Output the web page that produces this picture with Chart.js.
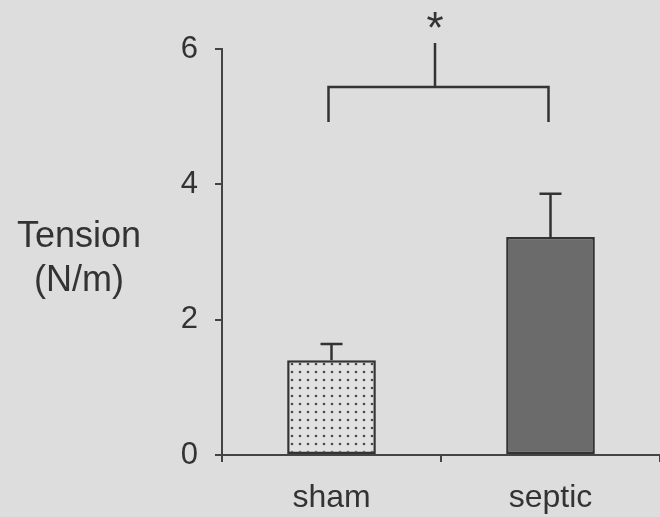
<!DOCTYPE html>
<html>
<head>
<meta charset="utf-8">
<script src="https://cdn.jsdelivr.net/npm/chart.js@4.4.0/dist/chart.umd.min.js"></script>
<style>
  html, body { margin: 0; padding: 0; background: #dddddd; }
  #wrap { width: 660px; height: 517px; position: relative; }
</style>
</head>
<body>
<div id="wrap"><canvas id="chart"></canvas></div>
<script>
// data
const groups = ['sham', 'septic'];
const tensionMean = [1.40, 3.22];
const tensionErr = [0.24, 0.64];   // upper SEM
const yTicks = [0, 2, 4, 6];
const bracketTop = 5.44;
const bracketLegs = 4.92;
const stemTop = 6.09;
const starAt = 6.42;
const yTitle = ['Tension', '(N/m)'];

const INK = '#333333';
const FONT = '"Liberation Sans", Arial, sans-serif';

// dotted fill for the sham bar
function dotPattern() {
  const c = document.createElement('canvas');
  c.width = 8; c.height = 8;
  const g = c.getContext('2d');
  g.fillStyle = '#e2e2e2';
  g.fillRect(0, 0, 8, 8);
  g.fillStyle = '#4a4a4a';
  g.beginPath();
  g.arc(4, 4, 1.3, 0, Math.PI * 2);
  g.fill();
  return g.createPattern(c, 'repeat');
}

// error bars, significance bracket and the horizontal y title
const extras = {
  id: 'extras',
  afterDatasetsDraw(chart) {
    const ctx = chart.ctx;
    const x = chart.scales.x, y = chart.scales.y;
    const meta = chart.getDatasetMeta(0);
    ctx.save();
    ctx.strokeStyle = INK;
    ctx.lineWidth = 2.5;
    meta.data.forEach((bar, i) => {
      const top = y.getPixelForValue(tensionMean[i]);
      const hi = y.getPixelForValue(tensionMean[i] + tensionErr[i]);
      ctx.beginPath();
      ctx.moveTo(bar.x, top);
      ctx.lineTo(bar.x, hi);
      ctx.moveTo(bar.x - 11, hi);
      ctx.lineTo(bar.x + 11, hi);
      ctx.stroke();
    });

    // bracket
    const x1 = meta.data[0].x - 3, x2 = meta.data[1].x - 2;
    const xm = (x.getPixelForValue(0) + x.getPixelForValue(1)) / 2 - 6;
    const yb = y.getPixelForValue(bracketTop), yl = y.getPixelForValue(bracketLegs);
    ctx.beginPath();
    ctx.moveTo(x1, yl);
    ctx.lineTo(x1, yb);
    ctx.lineTo(x2, yb);
    ctx.lineTo(x2, yl);
    ctx.moveTo(xm, yb);
    ctx.lineTo(xm, y.getPixelForValue(stemTop));
    ctx.stroke();

    ctx.fillStyle = INK;
    ctx.font = '44px ' + FONT;
    ctx.textAlign = 'center';
    ctx.textBaseline = 'middle';
    ctx.fillText('*', xm, y.getPixelForValue(starAt) + 10);

    ctx.font = '36px ' + FONT;
    ctx.textBaseline = 'alphabetic';
    ctx.fillText(yTitle[0], 79, 247);
    ctx.fillText(yTitle[1], 79, 291);
    ctx.restore();
  }
};

new Chart(document.getElementById('chart'), {
  type: 'bar',
  data: {
    labels: groups,
    datasets: [{
      data: tensionMean,
      backgroundColor: [dotPattern(), '#6b6b6b'],
      borderColor: INK,
      borderWidth: 2.5,
      borderSkipped: false,
      categoryPercentage: 1,
      barPercentage: 0.405
    }]
  },
  options: {
    responsive: true,
    maintainAspectRatio: false,
    animation: false,
    layout: { padding: { top: 49, right: 0, left: 0, bottom: 0 } },
    plugins: { legend: { display: false }, tooltip: { enabled: false } },
    scales: {
      x: {
        border: { display: true, color: '#444444', width: 2 },
        grid: { display: true, drawOnChartArea: false, drawTicks: true, tickLength: 7, color: '#444444', lineWidth: 2 },
        ticks: { color: INK, font: { family: FONT, size: 32 }, padding: 17 },
        afterFit(s) { s.height = 62; }
      },
      y: {
        min: 0,
        max: 6,
        afterBuildTicks(s) { s.ticks = yTicks.map(v => ({ value: v })); },
        border: { display: true, color: '#444444', width: 2 },
        grid: { display: true, drawOnChartArea: false, drawTicks: true, tickLength: 7, color: '#444444', lineWidth: 2 },
        ticks: { color: INK, font: { family: FONT, size: 31 }, padding: 17 },
        afterFit(s) { s.width = 222; }
      }
    }
  },
  plugins: [extras]
});
</script>
</body>
</html>
